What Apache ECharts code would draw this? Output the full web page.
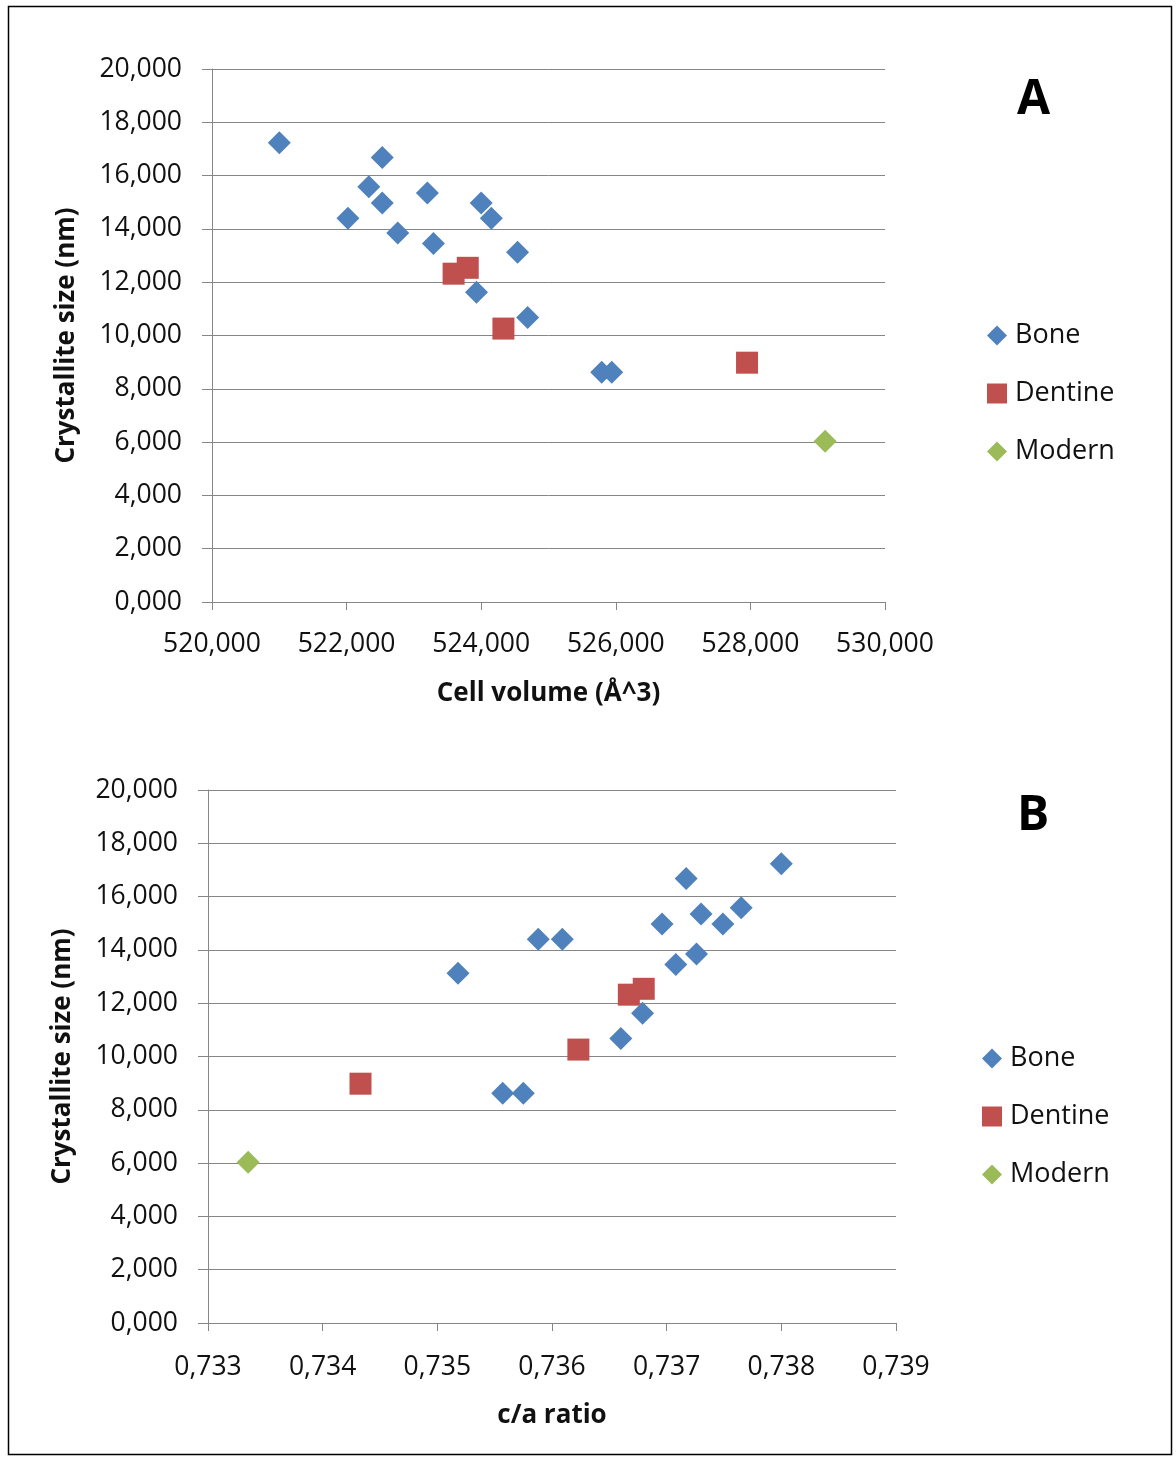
<!DOCTYPE html>
<html>
<head>
<meta charset="utf-8">
<title>Crystallite size vs cell volume and c/a ratio</title>
<script src="https://cdn.jsdelivr.net/npm/echarts@6/dist/echarts.min.js"></script>
<style>
  html, body { margin: 0; padding: 0; background: #fff; }
  #chart { width: 1176px; height: 1457px; }
</style>
</head>
<body>
<div id="chart"></div>
<script>
// Bone samples: cell volume (Å^3), c/a ratio, crystallite size (nm)
const boneVolume = [521.00, 522.53, 522.33, 522.53, 523.20, 522.02, 524.00, 524.15, 522.76, 523.29, 524.54, 523.93, 524.69, 525.79, 525.94];
const boneRatio  = [0.73800, 0.73717, 0.73765, 0.73749, 0.73730, 0.73588, 0.73696, 0.73609, 0.73726, 0.73708, 0.73518, 0.73679, 0.73660, 0.73557, 0.73575];
const boneSize   = [17.23, 16.68, 15.58, 14.97, 15.35, 14.40, 14.97, 14.40, 13.85, 13.45, 13.12, 11.62, 10.68, 8.62, 8.62];

// Dentine samples
const dentineVolume = [523.59, 523.80, 524.33, 527.95];
const dentineRatio  = [0.73667, 0.73680, 0.73623, 0.73433];
const dentineSize   = [12.32, 12.54, 10.26, 8.98];

// Modern reference
const modernVolume = [529.11];
const modernRatio  = [0.73335];
const modernSize   = [6.03];

const seriesNames = ['Bone', 'Dentine', 'Modern'];
const colors = { Bone: '#4F81BD', Dentine: '#C0504D', Modern: '#9BBB59' };

const FONT = 'Open Sans';
const TICK_FONT = 26.5;
const TITLE_FONT = 26;
const dec3 = v => v.toFixed(3).replace('.', ',');
const pairs = (xs, ys) => xs.map((x, i) => [x, ys[i]]);

const gridLine = '#868686';

function valueYAxis(gridIndex) {
  return {
    type: 'value', gridIndex, min: 0, max: 20, interval: 2,
    name: 'Crystallite size (nm)', nameLocation: 'middle', nameGap: 132, nameRotate: 90,
    nameTextStyle: { fontFamily: FONT, fontSize: TITLE_FONT, fontWeight: 'bold', color: '#111' },
    axisLine: { show: true, lineStyle: { color: gridLine, width: 1 } },
    axisTick: { show: true, length: 10, lineStyle: { color: gridLine } },
    axisLabel: { formatter: dec3, margin: 30, fontFamily: FONT, fontSize: TICK_FONT, color: '#111' },
    splitLine: { show: true, lineStyle: { color: gridLine, width: 1 } }
  };
}

function valueXAxis(gridIndex, min, max, interval, name, labelMargin, nameGap) {
  return {
    type: 'value', gridIndex, min, max, interval,
    name, nameLocation: 'middle', nameGap,
    nameTextStyle: { fontFamily: FONT, fontSize: TITLE_FONT, fontWeight: 'bold', color: '#111' },
    axisLine: { show: true, lineStyle: { color: gridLine, width: 1 } },
    axisTick: { show: true, length: 8, lineStyle: { color: gridLine } },
    axisLabel: { formatter: dec3, margin: labelMargin, fontFamily: FONT, fontSize: TICK_FONT, color: '#111' },
    splitLine: { show: false }
  };
}

function scatter(name, data, xi, yi, symbol, size) {
  return {
    type: 'scatter', name, data, xAxisIndex: xi, yAxisIndex: yi,
    symbol, symbolSize: size,
    itemStyle: { color: colors[name], opacity: 1 }
  };
}

function legend(left, top) {
  return {
    data: seriesNames, orient: 'vertical', left, top, padding: 0,
    itemWidth: 20, itemHeight: 20, itemGap: 31,
    textStyle: { fontFamily: FONT, fontSize: 27, color: '#111', padding: [0, 0, 0, 3] },
    selectedMode: false
  };
}

const chart = echarts.init(document.getElementById('chart'), null, { renderer: 'canvas' });
chart.setOption({
  animation: false,
  backgroundColor: '#fff',
  grid: [
    { left: 212, top: 69, width: 673, height: 533, outerBoundsMode: 'none' },
    { left: 208, top: 790, width: 688, height: 533, outerBoundsMode: 'none' }
  ],
  xAxis: [
    valueXAxis(0, 520, 530, 2, 'Cell volume (Å^3)', 29, 79),
    valueXAxis(1, 0.733, 0.739, 0.001, 'c/a ratio', 31, 80)
  ],
  yAxis: [valueYAxis(0), valueYAxis(1)],
  legend: [legend(987, 322), legend(982, 1045)],
  series: [
    scatter('Bone', pairs(boneVolume, boneSize), 0, 0, 'diamond', 23),
    scatter('Dentine', pairs(dentineVolume, dentineSize), 0, 0, 'rect', 22),
    scatter('Modern', pairs(modernVolume, modernSize), 0, 0, 'diamond', 23),
    scatter('Bone', pairs(boneRatio, boneSize), 1, 1, 'diamond', 23),
    scatter('Dentine', pairs(dentineRatio, dentineSize), 1, 1, 'rect', 22),
    scatter('Modern', pairs(modernRatio, modernSize), 1, 1, 'diamond', 23)
  ],
  graphic: [
    {
      type: 'rect', silent: true,
      shape: { x: 8.5, y: 6.5, width: 1163, height: 1448 },
      style: { fill: 'none', stroke: '#000', lineWidth: 1.5 }
    },
    {
      type: 'text', left: 1017, top: 76,
      style: { text: 'A', font: 'bold 48px "Open Sans"', fill: '#000' }
    },
    {
      type: 'text', left: 1017, top: 792,
      style: { text: 'B', font: 'bold 48px "Open Sans"', fill: '#000' }
    }
  ]
});
</script>
</body>
</html>
